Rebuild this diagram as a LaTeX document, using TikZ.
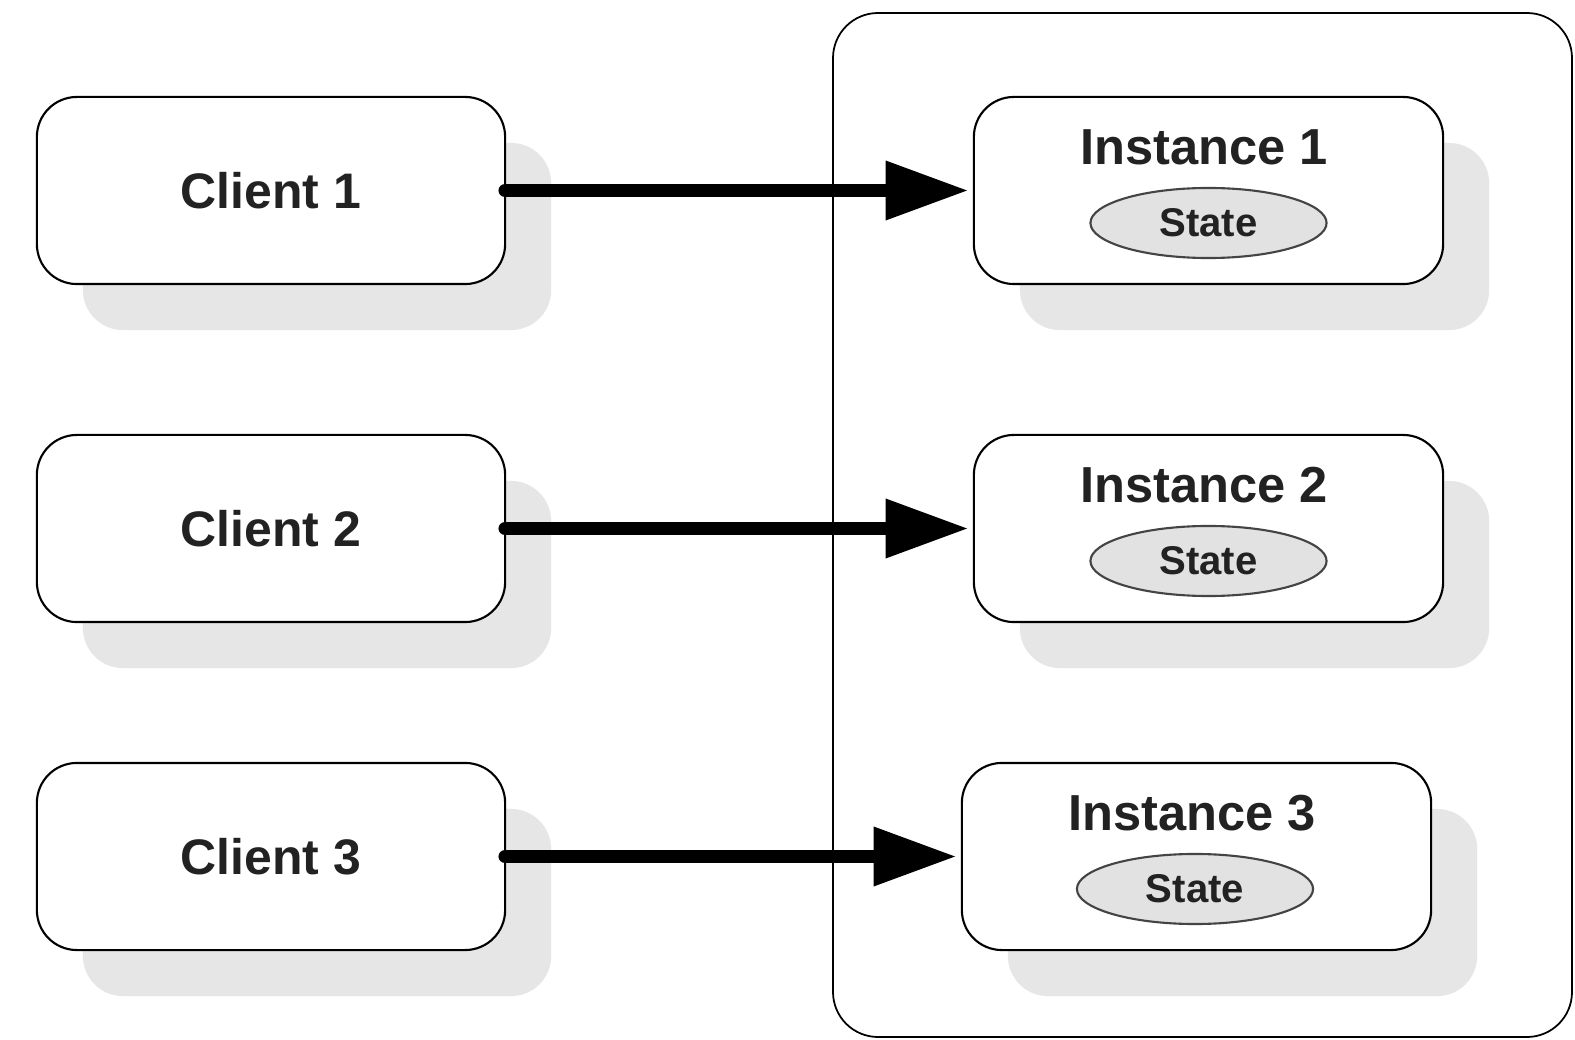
\documentclass[tikz,border=0pt]{standalone}
\usepackage{fontspec}
\setmainfont{Liberation Sans}
\usetikzlibrary{arrows.meta,shadows,shapes.geometric}
\definecolor{txt}{HTML}{222222}
\definecolor{shadowgray}{HTML}{E6E6E6}
\definecolor{statefill}{HTML}{E2E2E2}
\definecolor{stateline}{HTML}{444444}
\tikzset{
  boxshadow/.style={general shadow={fill=shadowgray, shadow xshift=0.46cm, shadow yshift=-0.46cm}},
  clientbox/.style={draw=black, line width=0.6pt, fill=white, rounded corners=0.4cm,
    minimum width=4.68cm, minimum height=1.87cm, inner sep=0pt, outer sep=0pt, boxshadow,
    font=\bfseries\fontsize{14.2}{16}\selectfont, text=txt},
  instbox/.style={draw=black, line width=0.6pt, fill=white, rounded corners=0.4cm,
    minimum width=4.69cm, minimum height=1.87cm, inner sep=0pt, outer sep=0pt, boxshadow},
  insttext/.style={font=\bfseries\fontsize{14.4}{16}\selectfont, text=txt, inner sep=0pt},
  stateel/.style={ellipse, draw=stateline, line width=0.6pt, fill=statefill,
    minimum width=2.36cm, minimum height=0.70cm, inner sep=0pt,
    font=\bfseries\fontsize{11.4}{13}\selectfont, text=txt},
  container/.style={draw=black, line width=0.5pt, rounded corners=0.45cm},
  conn/.style={line width=3.8pt, line cap=round, -{Triangle[length=0.83cm, width=0.56cm]}},
}
\begin{document}
\begin{tikzpicture}[x=0.01cm, y=-0.01cm]
\useasboundingbox (0,0) rectangle (1575,1040);
\fill[white] (0,0) rectangle (1575,1040);
% container
\draw[container] (833,13) rectangle (1572,1037);
% clients
\node[clientbox] (c1) at (271,190.5) {Client 1};
\node[clientbox] (c2) at (271,528.5) {Client 2};
\node[clientbox] (c3) at (271,856.5) {Client 3};
% instances
\node[instbox] (i1) at (1208.5,190.5) {};
\node[insttext] (i1t) at (1204,147) {Instance 1};
\node[stateel] (s1) at (1208.5,223) {State};
\node[instbox] (i2) at (1208.5,528.5) {};
\node[insttext] (i2t) at (1204,485) {Instance 2};
\node[stateel] (s2) at (1208.5,561) {State};
\node[instbox] (i3) at (1196.5,856.5) {};
\node[insttext] (i3t) at (1192,813) {Instance 3};
\node[stateel] (s3) at (1195,889) {State};
% connectors
\draw[conn, shorten <=0pt, shorten >=1.5pt] (c1.east) -- (i1.west);
\draw[conn, shorten <=0pt, shorten >=1.5pt] (c2.east) -- (i2.west);
\draw[conn, shorten <=0pt, shorten >=1.5pt] (c3.east) -- (i3.west);
\end{tikzpicture}
\end{document}
